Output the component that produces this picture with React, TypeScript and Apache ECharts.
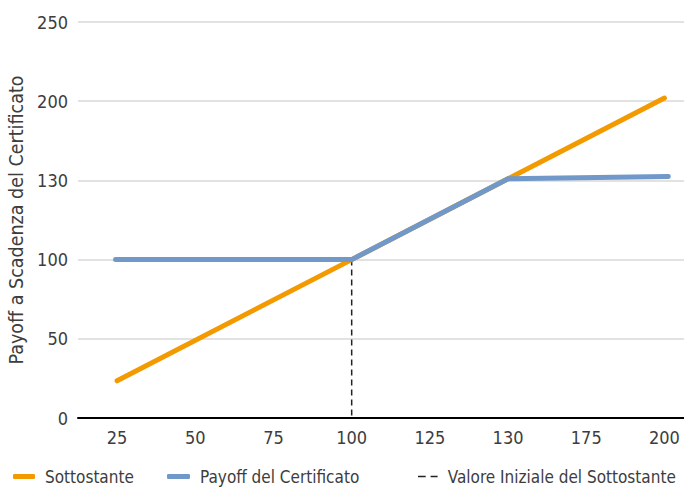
import React, { useEffect, useRef } from "react";
import * as echarts from "echarts";

// X axis: category labels drawn at evenly spaced positions 0..7
const xLabels = ["25", "50", "75", "100", "125", "130", "175", "200"];
// Y axis: tick labels drawn at evenly spaced positions 0..5
const yLabels = ["0", "50", "100", "130", "200", "250"];

// Series points in axis-position units [xPos, yPos]
const sottostante: number[][] = [
  [0, 0.47],
  [3, 2.0],
  [5, 3.02],
  [7, 4.04],
];
const payoff: number[][] = [
  [-0.02, 2.0],
  [3, 2.0],
  [5, 3.02],
  [7.05, 3.05],
];
const valoreIniziale: number[][] = [
  [3, 2.0],
  [3, 0],
];

const FONT = "'Liberation Sans Narrow', 'DejaVu Sans Condensed', Roboto, sans-serif";
const TXT = "#3d3d3d";

export default function App() {
  const ref = useRef<HTMLDivElement>(null);
  useEffect(() => {
    if (!ref.current) return;
    const chart = echarts.init(ref.current, undefined, { renderer: "svg" });
    const legendText = { color: TXT, fontSize: 17, fontFamily: FONT, padding: [0, 0, 0, 5] };
    chart.setOption({
      animation: false,
      grid: { left: 78, right: 0, top: 22, bottom: 69, containLabel: false, outerBoundsMode: "none" },
      xAxis: {
        type: "value",
        min: -0.5,
        max: 7.25,
        axisLine: { show: true, onZero: false, lineStyle: { color: "#000", width: 2 } },
        axisTick: { show: false },
        splitLine: { show: false },
        axisLabel: {
          customValues: xLabels.map((_, i) => i),
          formatter: (v: number) => xLabels[Math.round(v)] ?? "",
          color: TXT,
          fontSize: 18,
          fontFamily: FONT,
          margin: 10,
        },
      },
      yAxis: {
        type: "value",
        min: 0,
        max: yLabels.length - 1,
        interval: 1,
        name: "Payoff a Scadenza del Certificato",
        nameLocation: "middle",
        nameRotate: 90,
        nameGap: 50,
        nameTextStyle: { color: TXT, fontSize: 19.5, fontFamily: FONT },
        axisLine: { show: false },
        axisTick: { show: false },
        splitLine: { show: true, lineStyle: { color: "#d9d9d9", width: 1.5 } },
        axisLabel: {
          formatter: (v: number) => yLabels[Math.round(v)] ?? "",
          color: TXT,
          fontSize: 18,
          fontFamily: FONT,
          margin: 10,
        },
      },
      legend: [
        {
          data: ["Sottostante"],
          left: 8,
          top: 463,
          icon: "roundRect",
          itemWidth: 22,
          itemHeight: 5,
          textStyle: legendText,
        },
        {
          data: ["Payoff del Certificato"],
          left: 162,
          top: 463,
          icon: "roundRect",
          itemWidth: 23,
          itemHeight: 5,
          textStyle: legendText,
        },
        {
          data: ["Valore Iniziale del Sottostante"],
          left: 413,
          top: 463,
          icon: "path://M0,0h11v2h-11z M18,0h10v2h-10z",
          itemWidth: 28,
          itemHeight: 1.4,
          itemStyle: { color: "#222" },
          textStyle: { ...legendText, padding: [0, 0, 0, 1] },
        },
      ],
      series: [
        {
          name: "Valore Iniziale del Sottostante",
          type: "line",
          data: valoreIniziale,
          symbol: "none",
          lineStyle: { color: "#222", width: 1.5, type: [6, 4] },
          itemStyle: { color: "#222" },
          z: 1,
        },
        {
          name: "Sottostante",
          type: "line",
          data: sottostante,
          symbol: "none",
          lineStyle: { color: "#F39A00", width: 5, cap: "round", join: "round" },
          itemStyle: { color: "#F39A00" },
          z: 2,
        },
        {
          name: "Payoff del Certificato",
          type: "line",
          data: payoff,
          symbol: "none",
          lineStyle: { color: "#7098C9", width: 5, cap: "round", join: "round" },
          itemStyle: { color: "#7098C9" },
          z: 3,
        },
      ],
    });
    return () => chart.dispose();
  }, []);
  return <div ref={ref} style={{ width: 684, height: 487, position: "absolute", left: 0, top: 0 }} />;
}
